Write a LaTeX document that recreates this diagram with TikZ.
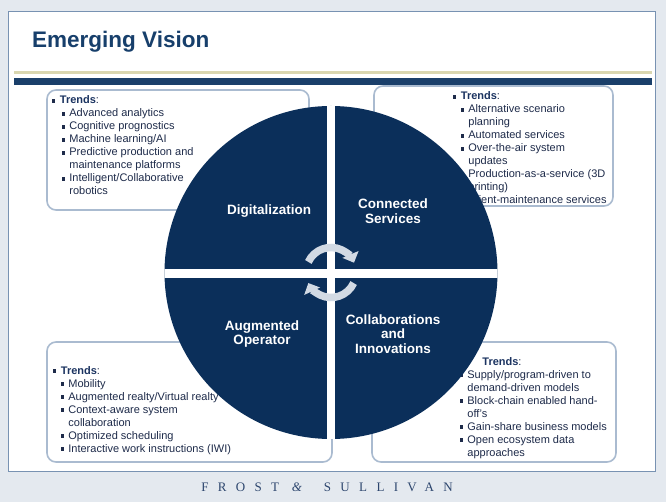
\documentclass[tikz,border=0pt]{standalone}
\usepackage{fontspec}
\setmainfont{Liberation Sans}
\newfontfamily\brandfont[LetterSpace=72]{Liberation Serif}
\usepackage{xcolor}
\usetikzlibrary{arrows.meta,positioning,calc}
\definecolor{pagebg}{RGB}{228,233,239}
\definecolor{panelline}{RGB}{120,146,178}
\definecolor{titleblue}{RGB}{23,63,107}
\definecolor{khaki}{RGB}{217,214,176}
\definecolor{bandblue}{RGB}{26,63,106}
\definecolor{discblue}{RGB}{11,47,90}
\definecolor{boxedge}{RGB}{170,187,208}
\definecolor{bodytext}{RGB}{30,43,74}
\definecolor{headtext}{RGB}{28,52,97}
\definecolor{cyclefill}{RGB}{210,218,228}
\definecolor{brandtext}{RGB}{45,70,110}
\newcommand{\sqbul}{\raisebox{0.25ex}{\rule{3.2pt}{3.2pt}}}
\newcommand{\trendhead}[2]{\multicolumn{2}{@{\hspace*{#1}}l@{}}{\sqbul\hspace{#2}\textcolor{headtext}{\textbf{Trends}}:}}
\tikzset{
    trendbox/.style={
        rectangle, rounded corners=9pt, draw=boxedge, line width=1.6pt,
        fill=white, inner sep=0pt
    },
    trendtxt/.style={
        font=\fontsize{11}{13}\selectfont, text=bodytext,
        inner sep=0pt, anchor=base west
    },
    quadlbl/.style={
        font=\fontsize{13.5}{14.5}\selectfont\bfseries, text=white,
        align=center
    },
    titletxt/.style={
        font=\fontsize{22.5}{24}\selectfont\bfseries, text=titleblue,
        anchor=base west, inner sep=0pt
    },
    brandtxt/.style={font=\brandfont\fontsize{13}{14}\selectfont, text=brandtext},
    cyclearrow/.style={line width=7.5pt, draw=cyclefill,
        -{Triangle[width=17pt, length=9pt]}}
}
\begin{document}
\begin{tikzpicture}[x=1pt, y=-1pt]
    % page and white panel
    \fill[pagebg] (0,0) rectangle (666,502);
    \filldraw[fill=white, draw=panelline, line width=0.8pt] (8,11) rectangle (655,471);
    \useasboundingbox (0,0) rectangle (666,502);
    % header
    \node[titletxt] (title) at (32,48) {Emerging Vision};
    \fill[khaki] (14,71) rectangle (652,74);
    \fill[bandblue] (14,78) rectangle (652,85);
    % trend boxes
    \node[trendbox, minimum width=262, minimum height=120] (tlbox) at (178,150) {};
    \node[trendbox, minimum width=239, minimum height=120] (trbox) at (493.5,146) {};
    \node[trendbox, minimum width=285, minimum height=120] (blbox) at (189.5,402) {};
    \node[trendbox, minimum width=244, minimum height=120] (brbox) at (494,402) {};
    \node[trendtxt] (tltxt) at (52,104) {%
        \begin{tabular}[t]{@{\hspace{10pt}}l@{\hspace{4pt}}l@{}}
            \trendhead{0pt}{4.5pt}\\
            \sqbul & Advanced analytics\\
            \sqbul & Cognitive prognostics\\
            \sqbul & Machine learning/AI\\
            \sqbul & Predictive production and\\
                   & maintenance platforms\\
            \sqbul & Intelligent/Collaborative\\
                   & robotics
        \end{tabular}};
    \node[trendtxt] (trtxt) at (453,100) {%
        \begin{tabular}[t]{@{\hspace{8pt}}l@{\hspace{4pt}}l@{}}
            \trendhead{0pt}{4.5pt}\\
            \sqbul & Alternative scenario\\
                   & planning\\
            \sqbul & Automated services\\
            \sqbul & Over-the-air system\\
                   & updates\\
            \sqbul & Production-as-a-service (3D\\
                   & printing)\\
            \sqbul & Client-maintenance services
        \end{tabular}};
    \node[trendtxt] (bltxt) at (53,374) {%
        \begin{tabular}[t]{@{\hspace{8pt}}l@{\hspace{4pt}}l@{}}
            \trendhead{0pt}{4.5pt}\\
            \sqbul & Mobility\\
            \sqbul & Augmented realty/Virtual realty\\
            \sqbul & Context-aware system\\
                   & collaboration\\
            \sqbul & Optimized scheduling\\
            \sqbul & Interactive work instructions (IWI)
        \end{tabular}};
    \node[trendtxt] (brtxt) at (460,365) {%
        \begin{tabular}[t]{@{}l@{\hspace{4pt}}l@{}}
            \trendhead{6pt}{13pt}\\
            \sqbul & Supply/program-driven to\\
                   & demand-driven models\\
            \sqbul & Block-chain enabled hand-\\
                   & off's\\
            \sqbul & Gain-share business models\\
            \sqbul & Open ecosystem data\\
                   & approaches
        \end{tabular}};
    % disc split into four quadrants
    \coordinate (hub) at (331,272.5);
    \fill[discblue] (hub) circle (166.5);
    \begin{scope}
        \clip (hub) circle (166.5);
        \fill[white] (327,100) rectangle (335,445);
        \fill[white] (160,269) rectangle (502,278);
    \end{scope}
    % cycle arrows
    \draw[cyclearrow] ($(hub)+(-155:25)$) arc[start angle=-155, end angle=-23, radius=25];
    \draw[cyclearrow] ($(hub)+(25:25)$) arc[start angle=25, end angle=155, radius=25];
    % quadrant labels
    \node[quadlbl] (digi) at (269,211) {Digitalization};
    \node[quadlbl] (conn) at (393,211) {Connected\\Services};
    \node[quadlbl] (augm) at (262,334) {Augmented\\Operator};
    \node[quadlbl] (coll) at (393,334) {Collaborations\\and\\Innovations};
    % footer
    \node[brandtxt] (brand) at (327,487) {FROST \textit{\&} SULLIVAN};
\end{tikzpicture}
\end{document}
